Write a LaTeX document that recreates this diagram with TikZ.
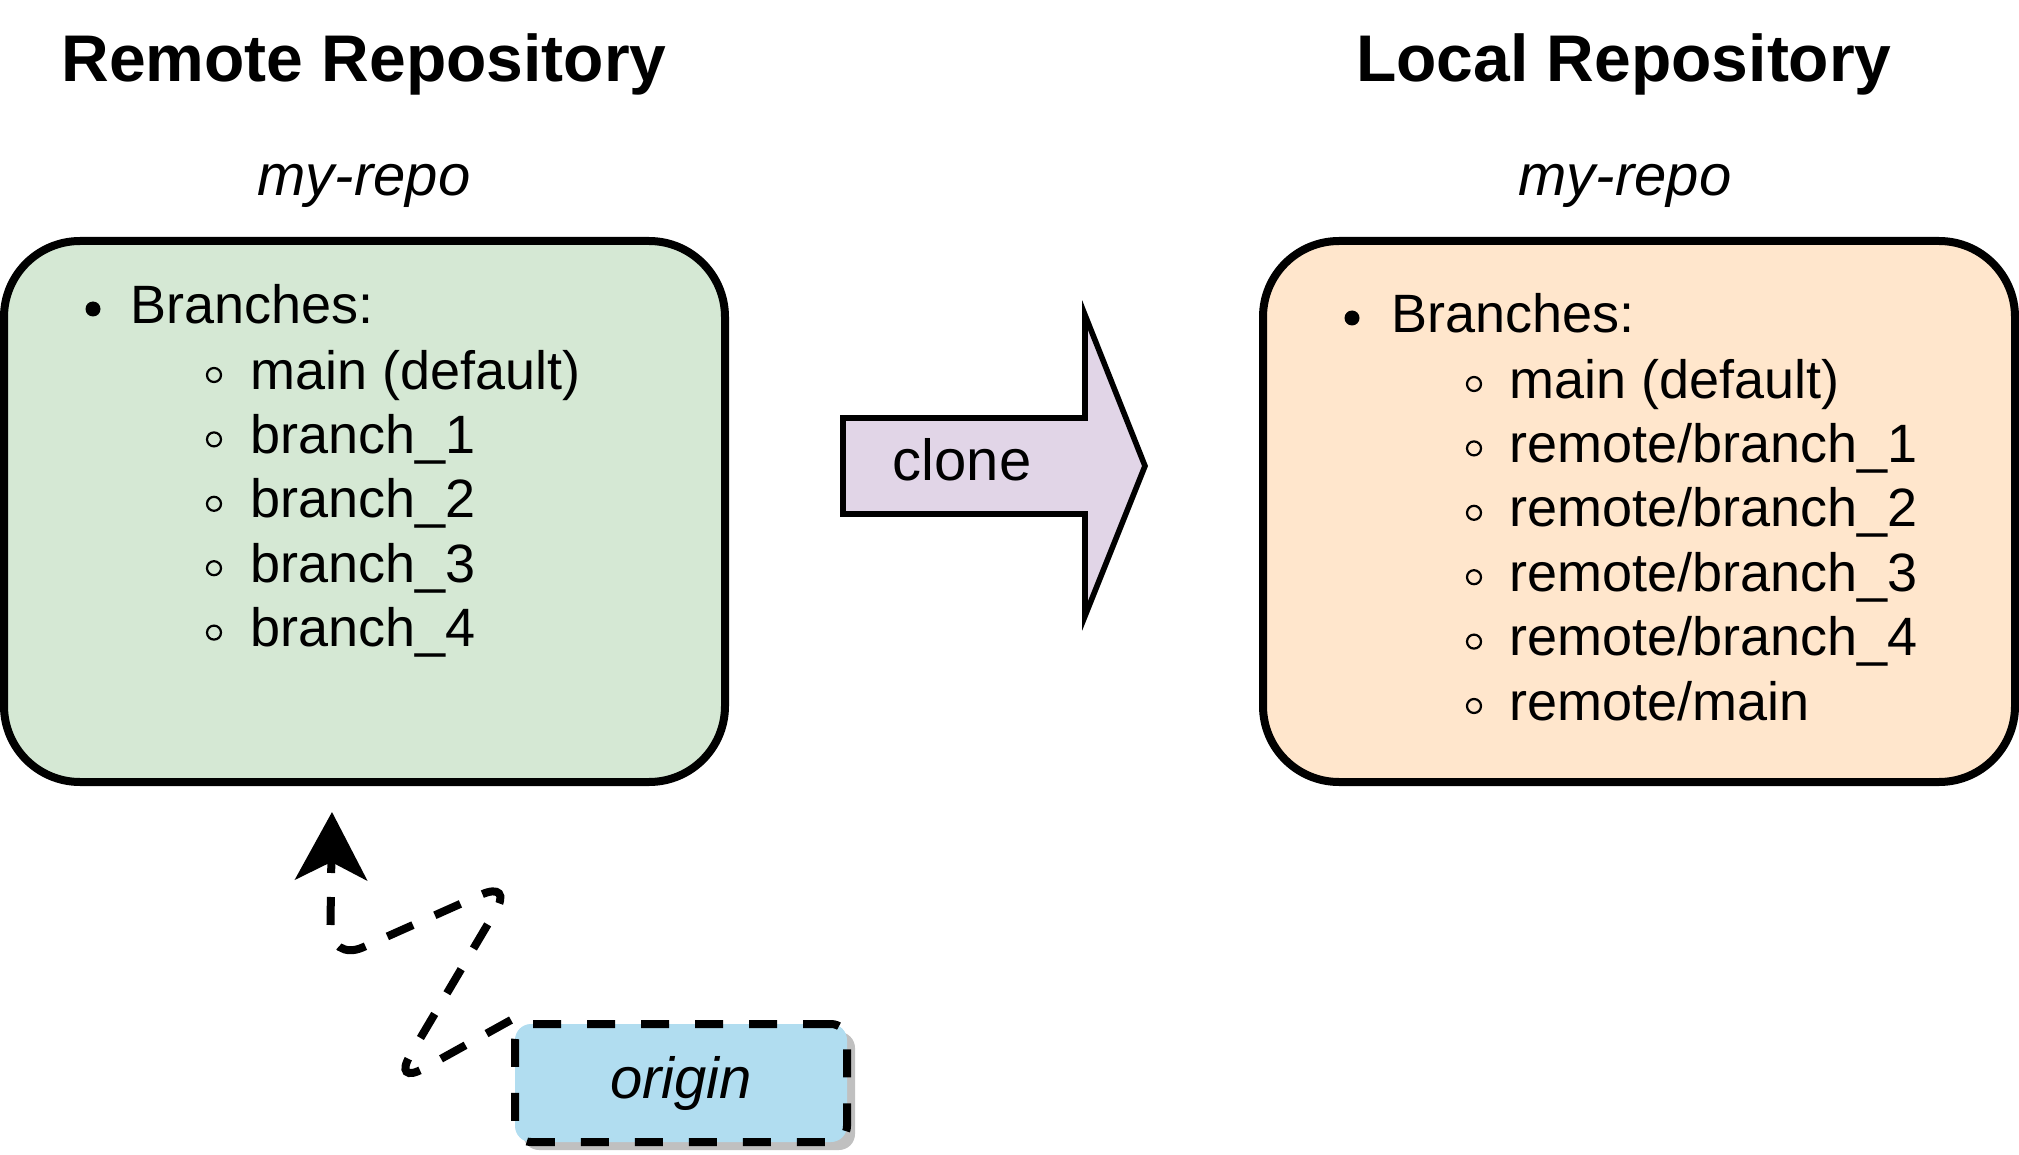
\documentclass[tikz,border=0pt]{standalone}
\usepackage{fontspec}
\setmainfont{Liberation Sans}
\usetikzlibrary{arrows.meta}

\definecolor{remotefill}{HTML}{D5E8D4}
\definecolor{localfill}{HTML}{FFE6CC}
\definecolor{clonefill}{HTML}{E1D5E7}
\definecolor{originfill}{HTML}{B1DDF0}
\definecolor{shadowgray}{HTML}{C0C0C0}

\tikzset{
  every node/.style={font=\fontsize{27}{32}\selectfont, inner sep=0pt},
  repobox/.style={draw, line width=4pt, rounded corners=38pt},
  title/.style={font=\fontsize{33}{40}\selectfont\bfseries, anchor=base},
  reponame/.style={font=\fontsize{29}{35}\selectfont\itshape, anchor=base},
  branchitem/.style={anchor=base west},
  clonearrow/.style={draw, fill=clonefill, line width=2.8pt, line join=miter},
  originbox/.style={draw, fill=originfill, line width=4pt, rounded corners=8pt,
    dash pattern=on 14pt off 13pt, minimum width=166pt, minimum height=59pt,
    font=\fontsize{29}{35}\selectfont\itshape},
  linkline/.style={line width=4pt, dash pattern=on 14pt off 12pt, rounded corners=18pt,
    -{Stealth[length=34pt, width=36pt, inset=9pt]}},
}

\begin{document}
\begin{tikzpicture}[x=0.5pt, y=-0.5pt]
  \useasboundingbox (0,0) rectangle (2019,1155);

  % titles
  \node[title] (remotetitle) at (364,82) {Remote Repository};
  \node[title] (localtitle) at (1624,82) {Local Repository};
  \node[reponame] (remotename) at (364,196) {my-repo};
  \node[reponame] (localname) at (1625,196) {my-repo};

  % repository boxes
  \node[repobox, fill=remotefill, minimum width=360.5pt, minimum height=270.5pt] (remote) at (364.5,511.5) {};
  \node[repobox, fill=localfill, minimum width=376pt, minimum height=270.5pt] (local) at (1639,511.5) {};

  % remote branches
  \fill (93,309) circle (7.5);
  \node[branchitem] (remotehead) at (130,324) {Branches:};
  \foreach \txt [count=\i] in {main (default), branch\_1, branch\_2, branch\_3, branch\_4}{
    \draw[line width=1.1pt] (214,{375+(\i-1)*64.4}) circle (7);
    \node[branchitem] (remote\i) at (250,{389+(\i-1)*64.4}) {\txt};
  }

  % local branches
  \fill (1352,318) circle (7.5);
  \node[branchitem] (localhead) at (1391,333) {Branches:};
  \foreach \txt [count=\i] in {main (default), remote/branch\_1, remote/branch\_2, remote/branch\_3, remote/branch\_4, remote/main}{
    \draw[line width=1.1pt] (1474,{384+(\i-1)*64.4}) circle (7);
    \node[branchitem] (local\i) at (1509,{398+(\i-1)*64.4}) {\txt};
  }

  % clone arrow
  \draw[clonearrow] (843,418) -- (1085,418) -- (1085,315) -- (1145,466)
    -- (1085,616) -- (1085,514) -- (843,514) -- cycle;
  \node[font=\fontsize{29}{35}\selectfont, anchor=base] (clonelabel) at (962,480) {clone};

  % origin pointer
  \fill[shadowgray, rounded corners=8pt] (523,1032) rectangle (855,1150);
  \node[originbox] (origin) at (681,1083) {origin};
  \coordinate (ptr) at (332,812);
  \draw[linkline] (origin.north west) -- (392,1086) -- (514,880) -- (330,962) -- (ptr);
\end{tikzpicture}
\end{document}
